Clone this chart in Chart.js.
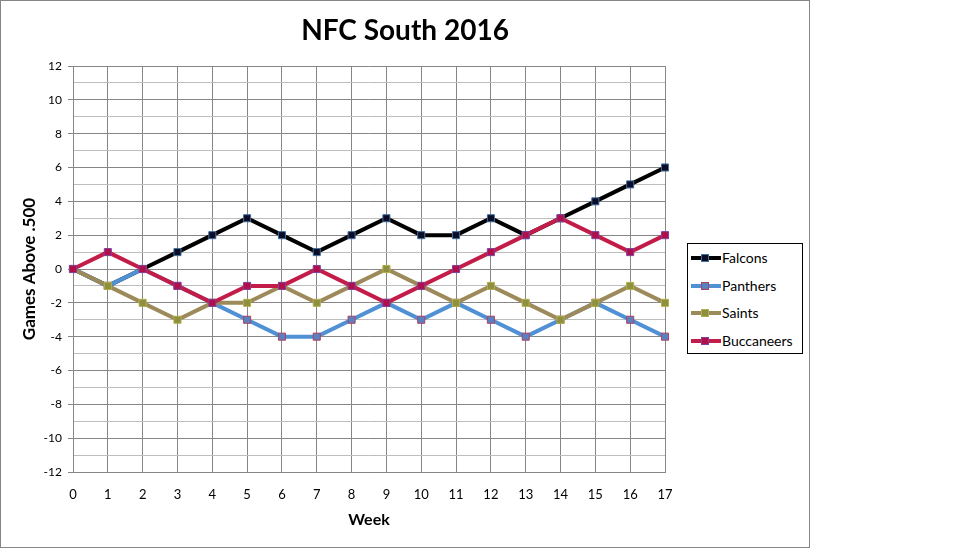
<!DOCTYPE html>
<html>
<head>
<meta charset="utf-8">
<script src="https://cdn.jsdelivr.net/npm/chart.js@4"></script>
<style>
  body { margin: 0; background: #fff; }
  #wrap { position: relative; width: 960px; height: 552px; }
  #frame { position: absolute; left: 0; top: 0; width: 808px; height: 546px; border: 1px solid #868686; pointer-events: none; }
  #legend { position: absolute; left: 687px; top: 243px; width: 116px; height: 111px; border: 1px solid #000; background: #fff;
            font-family: Lato, "Open Sans", sans-serif; font-size: 14px; box-sizing: border-box; padding-top: 0; }
  .item { position: relative; height: 27.5px; line-height: 27.5px; padding-left: 34px; color: #000; white-space: nowrap; }
  .line { position: absolute; left: 3px; top: 12px; width: 30px; height: 4px; }
  .mark { position: absolute; left: 13px; top: 10px; width: 6px; height: 6px; border: 1px solid; }
</style>
</head>
<body>
<div id="wrap">
  <canvas id="myChart" width="808" height="548" style="position:absolute;left:0;top:0;"></canvas>
  <div id="frame"></div>
  <div id="legend"></div>
</div>
<script>
var weeks = [0, 1, 2, 3, 4, 5, 6, 7, 8, 9, 10, 11, 12, 13, 14, 15, 16, 17];
var teams = ["Falcons", "Panthers", "Saints", "Buccaneers"];
var falcons = [0, -1, 0, 1, 2, 3, 2, 1, 2, 3, 2, 2, 3, 2, 3, 4, 5, 6];
var panthers = [0, -1, 0, -1, -2, -3, -4, -4, -3, -2, -3, -2, -3, -4, -3, -2, -3, -4];
var saints = [0, -1, -2, -3, -2, -2, -1, -2, -1, 0, -1, -2, -1, -2, -3, -2, -1, -2];
var buccaneers = [0, 1, 0, -1, -2, -1, -1, 0, -1, -2, -1, 0, 1, 2, 3, 2, 1, 2];
var lineColors = ["#000000", "#5090d4", "#9c8a5a", "#c41c48"];
var markFill = ["#0c0c26", "#5a80c0", "#8c9040", "#b0104a"];
var markBorder = ["#4070a0", "#b04060", "#b4b048", "#8040a0"];

var seriesData = [falcons, panthers, saints, buccaneers];
var fontFam = "Lato, 'Open Sans', sans-serif";
var chartTitle = "NFC South 2016";

// later teams are drawn on top, like the original
var datasets = teams.map(function (name, i) {
  return {
    label: name,
    data: seriesData[i],
    borderColor: lineColors[i],
    borderWidth: 4,
    pointStyle: "rect",
    pointRadius: 5,
    pointBorderWidth: 1,
    pointBackgroundColor: markFill[i],
    pointBorderColor: markBorder[i],
    tension: 0,
    order: teams.length - i
  };
});

// title centred on the whole chart box, not on the plot
var titlePlugin = {
  id: "bigTitle",
  afterDraw: function (chart) {
    var ctx = chart.ctx;
    ctx.save();
    ctx.font = "bold 28px " + fontFam;
    ctx.fillStyle = "#000";
    ctx.textAlign = "center";
    ctx.textBaseline = "middle";
    ctx.fillText(chartTitle, 405, 31);
    ctx.restore();
  }
};

new Chart("myChart", {
  type: "line",
  data: { labels: weeks, datasets: datasets },
  plugins: [titlePlugin],
  options: {
    responsive: false,
    animation: false,
    layout: { padding: { left: 0, right: 143, top: 66, bottom: 0 } },
    plugins: {
      legend: { display: false },
      tooltip: { enabled: false }
    },
    scales: {
      x: {
        offset: false,
        grid: { color: "#868686", drawTicks: false },
        border: { color: "#868686" },
        ticks: { color: "#000", font: { family: fontFam, size: 13 }, padding: 15, maxRotation: 0, autoSkip: false },
        title: { display: true, text: "Week", color: "#000", font: { family: fontFam, size: 16, weight: "bold" }, padding: { top: 0, bottom: 19 } },
        afterFit: function (s) { s.height = 76; }
      },
      y: {
        min: -12,
        max: 12,
        grid: {
          color: function (c) { return c.tick.value % 2 === 0 ? "#868686" : "#bdbdbd"; },
          tickColor: function (c) { return c.tick.value % 2 === 0 ? "#868686" : "rgba(0,0,0,0)"; },
          tickLength: 5
        },
        border: { color: "#868686" },
        ticks: {
          stepSize: 1,
          autoSkip: false,
          padding: 6,
          color: "#000",
          font: { family: fontFam, size: 12 },
          callback: function (v) { return v % 2 === 0 ? v : ""; }
        },
        title: { display: true, text: "Games Above .500", color: "#000", font: { family: fontFam, size: 17, weight: "bold" }, padding: { top: 19, bottom: 0 } },
        afterFit: function (s) { s.width = 73; }
      }
    }
  }
});

// legend box on the right
var legend = document.getElementById("legend");
teams.forEach(function (name, i) {
  var item = document.createElement("div");
  item.className = "item";
  item.innerHTML = '<span class="line" style="background:' + lineColors[i] + '"></span>' +
    '<span class="mark" style="background:' + markFill[i] + ';border-color:' + markBorder[i] + '"></span>' + name;
  legend.appendChild(item);
});
</script>
</body>
</html>
